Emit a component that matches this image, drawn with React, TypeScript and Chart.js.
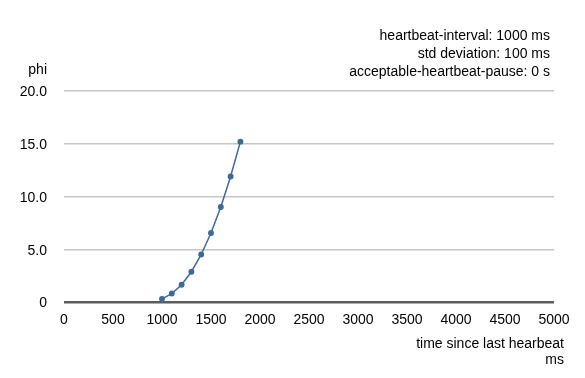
import React, { useEffect, useRef } from 'react';
import { Chart, registerables } from 'chart.js';

Chart.register(...registerables);

// ---- data ----
const timeMs = [1000, 1100, 1200, 1300, 1400, 1500, 1600, 1700, 1800];
const phiValues = [0.3, 0.8, 1.64, 2.87, 4.5, 6.54, 9.0, 11.89, 15.2];
const xTickValues = [0, 500, 1000, 1500, 2000, 2500, 3000, 3500, 4000, 4500, 5000];
const yTickValues = [0, 5, 10, 15, 20];
const annotationLines = [
  'heartbeat-interval: 1000 ms',
  'std deviation: 100 ms',
  'acceptable-heartbeat-pause: 0 s',
];
const yAxisLabel = 'phi';
const xAxisLabelLines = ['time since last hearbeat', 'ms'];

const FONT_FAMILY = '"Liberation Sans", Arial, Helvetica, sans-serif';
const TEXT_COLOR = '#000000';

const textPlugin = {
  id: 'textPlugin',
  afterDraw(chart: any) {
    const { ctx, chartArea } = chart;
    ctx.save();
    ctx.fillStyle = TEXT_COLOR;
    ctx.font = `14px ${FONT_FAMILY}`;
    ctx.textAlign = 'right';
    ctx.textBaseline = 'alphabetic';
    // annotation, top right
    annotationLines.forEach((line, i) => {
      ctx.fillText(line, chartArea.right - 4, 40 + i * 18);
    });
    // y axis label
    ctx.fillText(yAxisLabel, chartArea.left - 17, 74);
    // x axis label
    xAxisLabelLines.forEach((line, i) => {
      ctx.fillText(line, chartArea.right + 10, chartArea.bottom + 46 + i * 16);
    });
    ctx.restore();
  },
};

export default function App() {
  const ref = useRef<HTMLCanvasElement | null>(null);

  useEffect(() => {
    if (!ref.current) return;
    const chart = new Chart(ref.current, {
      type: 'line',
      data: {
        datasets: [
          {
            data: timeMs.map((t, i) => ({ x: t, y: phiValues[i] })),
            borderColor: '#3d6a99',
            backgroundColor: '#3d6a99',
            borderWidth: 1.5,
            pointRadius: 2.2,
            pointHoverRadius: 2.2,
            tension: 0,
            fill: false,
          },
        ],
      },
      options: {
        responsive: false,
        animation: false,
        devicePixelRatio: 1,
        layout: { padding: { top: 91, right: 31, bottom: 46, left: 0 } },
        plugins: {
          legend: { display: false },
          tooltip: { enabled: false },
          title: { display: false },
        },
        scales: {
          x: {
            type: 'linear',
            min: 0,
            max: 5000,
            afterBuildTicks: (s: any) => {
              s.ticks = xTickValues.map((v) => ({ value: v }));
            },
            afterFit: (s: any) => {
              s.height = 30;
            },
            grid: { display: false, drawTicks: false },
            border: { display: false },
            ticks: {
              padding: 10,
              maxRotation: 0,
              autoSkip: false,
              color: TEXT_COLOR,
              font: { family: FONT_FAMILY, size: 14 },
              callback: (v: any) => String(v),
            },
          },
          y: {
            type: 'linear',
            min: 0,
            max: 20,
            afterBuildTicks: (s: any) => {
              s.ticks = yTickValues.map((v) => ({ value: v }));
            },
            afterFit: (s: any) => {
              s.width = 64;
            },
            grid: {
              drawTicks: false,
              color: (c: any) => (c.tick && c.tick.value === 0 ? '#5c5c5c' : '#c6c6c6'),
              lineWidth: (c: any) => (c.tick && c.tick.value === 0 ? 2.5 : 1.5),
            },
            border: { display: false },
            ticks: {
              padding: 17,
              labelOffset: 1.5,
              color: TEXT_COLOR,
              font: { family: FONT_FAMILY, size: 14 },
              callback: (v: any) => (Number(v) === 0 ? '0' : Number(v).toFixed(1)),
            },
          },
        },
      },
      plugins: [textPlugin],
    });
    return () => chart.destroy();
  }, []);

  return (
    <div style={{ position: 'fixed', left: 0, top: 0, width: 585, height: 378, background: '#fff' }}>
      <canvas ref={ref} width={585} height={378} />
    </div>
  );
}
